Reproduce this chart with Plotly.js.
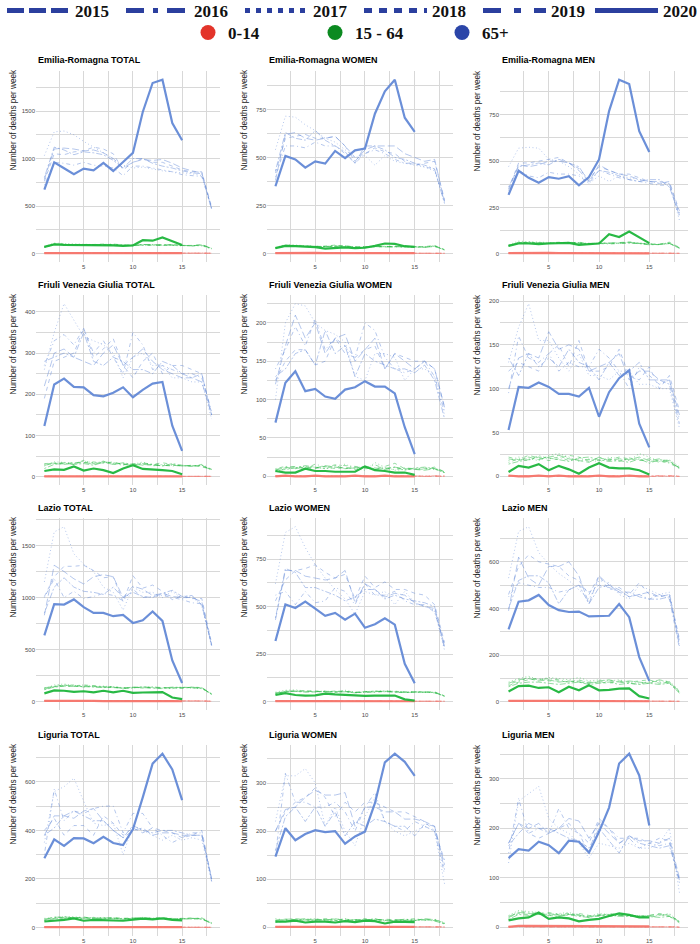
<!DOCTYPE html>
<html><head><meta charset="utf-8">
<script src="https://cdn.plot.ly/plotly-3.0.1.min.js"></script>
<style>html,body{margin:0;padding:0;background:#fff}#chart{width:700px;height:944px}</style>
</head><body><div id="chart"></div>
<script>
// ---------------- DATA ----------------
const weeks = [1,2,3,4,5,6,7,8,9,10,11,12,13,14,15,16,17,18];
const years = ['2015','2016','2017','2018','2019','2020'];
const ageGroups = ['0-14','15 - 64','65+'];
const panelTitles = [
  'Emilia-Romagna TOTAL','Emilia-Romagna WOMEN','Emilia-Romagna MEN',
  'Friuli Venezia Giulia TOTAL','Friuli Venezia Giulia WOMEN','Friuli Venezia Giulia MEN',
  'Lazio TOTAL','Lazio WOMEN','Lazio MEN',
  'Liguria TOTAL','Liguria WOMEN','Liguria MEN'
];
const yTickSteps = [500,250,250,100,50,50,500,250,200,200,100,100];

// each array: series for 2015, 2016, 2017, 2018, 2019, 2020
const ER_TOT_0_14 = [
  [5,6,4,5,7,4,5,6,3,5,6,4,5,4,6,5,4,3],
  [4,5,6,3,5,6,4,5,4,6,4,5,3,5,4,6,5,2],
  [6,4,5,6,4,5,7,4,5,4,5,6,4,5,5,4,6,3],
  [5,5,4,6,5,4,5,6,4,5,5,4,6,4,5,5,4,2],
  [4,6,5,5,6,5,4,5,5,4,6,5,5,4,4,5,5,3],
  [5,6,4,5,6,5,4,5,4,5,4,3,4,3,3]];
const ER_TOT_15_64 = [
  [70,100,95,95,90,90,95,90,85,85,95,90,90,95,85,80,90,55],
  [65,95,100,90,90,85,95,100,90,80,90,85,95,90,85,80,85,50],
  [75,110,105,100,95,90,90,95,85,90,85,95,85,85,80,85,80,50],
  [70,100,95,95,90,95,100,90,85,90,90,85,90,85,90,85,95,55],
  [65,95,95,90,95,90,90,90,85,85,95,90,85,90,85,80,90,50],
  [70,95,90,90,85,90,85,85,80,85,140,135,170,130,90]];
const ER_TOT_65 = [
  [780,1100,1110,1100,1080,1090,1060,1000,900,960,990,980,990,950,900,870,850,470],
  [720,960,950,930,960,930,920,900,820,920,920,900,880,860,830,820,810,480],
  [1030,1280,1290,1250,1180,1120,1060,990,930,900,910,890,870,860,850,840,820,460],
  [760,1050,1040,1070,1080,1120,1100,1050,880,960,1000,960,960,920,880,860,860,490],
  [800,1120,1090,1040,1070,1060,1040,980,900,1000,1000,950,920,900,870,850,840,470],
  [673,960,897,834,894,876,953,869,964,1059,1490,1795,1830,1374,1192]];

const ER_W_0_14 = [
  [2,3,2,2,3,2,2,3,2,2,3,2,2,2,3,2,2,1],
  [3,2,2,3,2,2,3,2,2,3,2,2,3,2,2,2,3,1],
  [2,2,3,2,2,3,2,2,3,2,2,3,2,2,3,2,2,1],
  [2,3,2,3,2,2,2,3,2,2,2,3,2,3,2,2,2,1],
  [3,2,2,2,3,2,3,2,2,2,3,2,2,2,2,3,2,1],
  [2,3,2,2,3,2,2,2,2,3,2,2,2,2,2]];
const ER_W_15_64 = [
  [30,42,40,38,36,35,38,40,34,32,36,34,36,34,35,33,36,20],
  [26,38,42,36,34,38,36,34,32,36,38,36,34,36,32,34,38,18],
  [32,46,44,40,38,36,40,38,36,34,36,38,35,33,36,34,40,22],
  [28,40,38,40,36,38,44,38,34,36,34,36,38,35,34,36,42,20],
  [30,44,40,36,38,36,40,36,30,34,38,35,36,34,36,32,40,18],
  [28,40,38,35,33,25,30,32,28,30,40,52,50,38,35]];
const ER_W_65 = [
  [380,620,630,600,590,600,610,560,480,540,560,560,560,520,500,480,490,270],
  [400,560,560,550,580,560,560,520,470,520,540,520,490,470,470,450,440,270],
  [540,715,710,670,640,600,580,540,500,510,460,510,480,470,460,450,430,270],
  [420,600,610,620,600,600,610,560,500,520,550,530,520,480,460,470,480,280],
  [430,630,600,590,640,590,560,530,470,560,560,540,500,490,470,460,440,260],
  [350,508,490,447,480,468,534,497,537,546,728,844,905,707,633]];

const ER_M_0_14 = [
  [3,4,3,3,4,3,3,4,3,3,4,3,3,3,4,3,3,2],
  [3,3,4,3,3,4,3,3,3,4,3,3,4,3,3,3,4,2],
  [4,3,3,4,3,3,4,3,3,3,4,3,3,4,3,3,3,2],
  [3,4,3,3,3,4,3,4,3,3,3,3,4,3,4,3,3,2],
  [3,3,3,4,3,3,3,3,4,3,3,4,3,3,3,4,3,2],
  [3,4,3,3,4,3,3,3,3,3,2,2,3,2,2]];
const ER_M_15_64 = [
  [45,60,62,58,56,60,60,55,55,58,55,58,60,55,52,50,55,32],
  [40,58,60,55,58,56,58,60,52,55,52,55,58,56,50,48,55,30],
  [48,68,65,62,60,58,62,58,56,55,54,56,62,58,52,50,60,28],
  [44,62,60,56,58,62,58,62,54,58,56,60,64,55,50,52,62,34],
  [42,60,58,60,55,58,60,56,52,56,58,56,58,54,48,50,56,30],
  [42,55,55,52,55,55,58,48,50,55,105,90,120,90,57]];
const ER_M_65 = [
  [340,480,470,480,500,500,490,450,390,480,450,430,420,400,390,390,380,220],
  [330,450,420,410,440,430,430,420,380,450,430,410,400,390,380,370,370,200],
  [470,570,575,570,510,500,470,430,380,420,390,420,410,400,390,380,380,180],
  [350,490,490,500,510,520,490,460,400,470,450,430,430,410,390,380,390,230],
  [360,470,480,490,480,510,490,470,390,450,440,420,400,390,400,400,360,210],
  [318,448,410,383,414,405,419,369,414,509,770,940,917,662,549]];

const FVG_TOT_0_14 = [
  [1,1,2,1,1,1,1,2,1,1,1,1,1,2,1,1,1,1],
  [1,2,1,1,1,2,1,1,1,1,2,1,1,1,1,2,1,1],
  [2,1,1,1,2,1,1,1,2,1,1,1,2,1,1,1,1,1],
  [1,1,1,2,1,1,2,1,1,1,1,2,1,1,2,1,1,1],
  [1,1,1,1,1,1,1,1,1,2,1,1,1,1,1,1,2,1],
  [1,1,1,1,1,1,1,1,1,1,1,1,1,1,1]];
const FVG_TOT_15_64 = [
  [28,32,30,32,35,30,36,34,30,28,30,28,27,28,26,27,26,17],
  [30,34,33,30,40,32,38,30,32,26,34,30,28,26,28,25,30,18],
  [26,36,35,33,38,34,36,32,28,30,36,26,30,28,27,26,28,16],
  [32,33,31,35,34,36,33,36,30,32,28,30,34,30,26,28,24,18],
  [20,30,34,30,32,28,35,30,34,30,32,30,26,32,28,26,28,17],
  [14,18,17,25,15,20,16,9,20,28,19,18,16,14,6]];
const FVG_TOT_65 = [
  [220,300,310,290,280,270,300,320,270,290,310,280,260,250,240,240,230,150],
  [270,330,345,320,360,300,330,290,250,350,320,260,270,260,250,250,240,160],
  [260,350,420,380,340,330,320,300,240,290,300,270,270,240,240,230,230,140],
  [190,280,290,300,360,290,310,335,270,240,280,300,250,270,270,260,250,150],
  [280,290,300,290,350,280,270,290,280,260,260,250,280,270,250,240,250,150],
  [123,224,238,218,217,198,195,204,217,193,211,226,230,124,63]];

const FVG_W_0_14 = [
  [0,1,0,1,0,0,1,0,1,0,0,1,0,0,1,0,0,0],
  [1,0,0,0,1,0,0,1,0,0,1,0,0,1,0,0,1,0],
  [0,0,1,0,0,1,0,0,0,1,0,0,1,0,0,1,0,0],
  [0,1,0,0,1,0,1,0,0,0,1,0,0,0,1,0,0,1],
  [1,0,0,1,0,0,0,1,0,1,0,0,1,0,0,0,1,0],
  [0,1,0,0,1,0,0,0,1,0,0,1,0,0,0]];
const FVG_W_15_64 = [
  [8,12,10,12,11,14,12,10,12,10,11,9,12,10,9,8,10,5],
  [10,13,12,10,16,12,15,14,13,11,15,10,9,11,10,9,11,6],
  [6,10,11,13,12,10,11,16,10,8,18,12,8,9,10,11,9,5],
  [9,11,13,11,10,13,10,12,9,12,10,13,17,10,9,10,12,6],
  [7,9,11,14,12,10,14,10,11,13,9,11,12,8,11,12,10,5],
  [7,5,5,10,7,7,6,6,6,13,8,7,5,5,2]];
const FVG_W_65 = [
  [120,170,210,180,200,160,180,185,150,165,180,140,160,150,140,150,140,90],
  [140,165,195,170,205,165,180,160,155,200,190,155,140,135,140,150,130,85],
  [100,200,225,222,200,190,185,175,130,125,160,160,155,125,140,140,130,80],
  [125,150,165,165,145,150,180,170,155,165,170,140,160,155,150,150,140,90],
  [130,140,160,165,145,190,160,170,130,160,150,145,140,140,135,145,125,75],
  [70,122,137,111,114,104,101,113,116,124,117,117,108,64,29]];

const FVG_M_0_14 = [
  [1,0,1,0,0,1,0,0,1,0,1,0,0,1,0,0,1,0],
  [0,1,0,0,1,0,1,0,0,1,0,0,1,0,0,1,0,0],
  [1,0,0,1,0,0,1,0,1,0,0,1,0,0,1,0,0,1],
  [0,0,1,0,1,0,0,1,0,0,1,0,1,0,0,0,1,0],
  [0,1,0,1,0,0,0,1,0,1,0,0,0,1,0,1,0,0],
  [1,0,0,1,0,1,0,0,0,1,0,0,1,0,0]];
const FVG_M_15_64 = [
  [20,18,22,19,22,24,20,18,16,22,18,20,19,22,18,20,16,10],
  [16,20,18,24,20,22,18,20,19,18,20,17,21,19,17,18,15,9],
  [18,22,20,18,24,26,22,17,20,16,22,20,18,26,22,17,19,11],
  [22,19,24,21,18,20,24,22,17,21,19,22,20,18,20,16,17,10],
  [14,17,19,22,21,19,17,21,22,19,17,18,16,20,15,19,18,9],
  [5,12,10,14,7,12,8,3,10,15,10,9,9,7,2]];
const FVG_M_65 = [
  [100,135,140,135,165,145,150,145,120,125,130,140,110,120,120,110,110,70],
  [95,160,135,130,140,120,130,125,125,145,135,120,100,125,115,105,110,65],
  [130,170,197,155,155,135,120,140,115,115,110,120,120,105,105,100,100,55],
  [120,130,125,120,140,150,125,155,120,120,125,145,115,110,125,100,115,75],
  [135,115,140,125,135,125,145,130,125,110,130,115,120,130,110,110,105,60],
  [53,102,101,107,102,94,94,91,101,68,96,112,121,60,33]];

const LAZ_TOT_0_14 = [
  [8,9,7,8,10,7,8,9,7,8,7,8,9,7,8,8,7,4],
  [9,8,8,7,8,9,7,8,8,7,9,8,7,8,9,7,8,5],
  [7,10,9,8,7,8,9,7,8,9,8,7,8,9,7,8,9,4],
  [8,7,9,9,8,7,8,8,9,7,8,9,8,7,8,9,7,5],
  [9,8,7,8,9,8,7,9,7,8,8,8,7,8,8,7,8,4],
  [8,9,7,8,8,7,6,7,6,7,5,6,5,5,4]];
const LAZ_TOT_15_64 = [
  [120,145,160,150,150,145,140,135,130,140,135,130,135,130,140,135,130,75],
  [130,150,155,160,140,150,145,140,125,135,140,130,125,135,130,140,135,70],
  [125,160,170,155,160,145,150,140,135,130,140,145,130,125,135,130,125,72],
  [135,145,150,145,160,155,140,145,130,140,130,140,135,130,130,140,135,78],
  [115,140,150,150,145,140,135,140,130,135,145,135,130,140,135,130,130,70],
  [80,108,105,95,100,90,105,90,105,85,88,90,92,40,25]];
const LAZ_TOT_65 = [
  [830,1310,1250,1180,1130,1200,1220,1200,1000,1110,1080,1020,1040,1010,1000,1000,960,540],
  [1000,1180,1000,1060,990,1010,1040,1020,970,1080,1000,1010,1020,1000,980,950,940,550],
  [1150,1630,1680,1420,1320,1250,1100,1050,880,1100,1050,1050,1000,1060,990,1010,920,530],
  [1010,1200,1300,1300,1310,1260,1190,1200,960,1210,1090,1120,1060,980,1020,990,990,560],
  [850,1100,1190,1100,1060,1050,1030,1100,1000,1050,1010,1000,1040,1070,1010,1020,930,540],
  [637,937,933,982,908,853,853,821,834,756,782,866,776,396,180]];

const LAZ_W_0_14 = [
  [3,4,3,3,4,3,3,4,3,3,4,3,3,3,4,3,3,2],
  [4,3,3,4,3,3,4,3,3,4,3,3,4,3,3,3,4,2],
  [3,3,4,3,3,4,3,3,4,3,3,4,3,3,3,4,3,2],
  [3,4,3,3,3,3,4,3,3,3,4,3,3,4,3,3,3,2],
  [4,3,3,3,4,3,3,3,3,3,3,3,3,3,4,3,3,2],
  [3,4,3,3,3,3,3,3,2,3,2,2,2,2,2]];
const LAZ_W_15_64 = [
  [42,55,55,52,55,50,52,54,48,50,52,55,50,48,50,52,48,30],
  [45,52,58,55,50,55,50,52,50,48,50,52,55,50,48,50,46,28],
  [50,60,62,56,54,56,52,60,50,52,54,58,52,50,52,48,50,32],
  [46,54,56,58,56,52,56,55,48,54,50,56,54,52,50,50,52,30],
  [40,52,54,50,52,54,50,52,46,50,56,52,50,48,52,50,48,28],
  [35,45,35,32,33,42,38,35,30,30,32,32,32,12,5]];
const LAZ_W_65 = [
  [430,690,690,660,650,640,650,690,520,620,590,550,570,560,520,500,490,280],
  [560,580,510,580,520,530,600,580,510,620,560,560,580,530,510,510,470,300],
  [620,890,920,810,720,650,590,540,460,580,560,580,510,580,520,500,480,270],
  [530,640,690,700,720,680,650,670,540,660,600,630,590,590,570,560,510,310],
  [440,700,680,600,600,580,560,530,550,590,590,540,560,540,530,520,500,290],
  [319,511,493,526,489,451,467,431,463,389,407,438,405,199,97]];

const LAZ_M_0_14 = [
  [5,6,5,5,6,5,5,6,5,5,6,5,5,5,6,5,5,3],
  [6,5,5,6,5,5,6,5,5,6,5,5,6,5,5,5,6,3],
  [5,5,6,5,5,6,5,5,6,5,5,6,5,5,5,6,5,3],
  [5,6,5,5,5,5,6,5,5,5,6,5,5,6,5,5,5,3],
  [6,5,5,5,6,5,5,5,5,5,5,5,5,5,6,5,5,3],
  [5,6,5,5,5,5,4,4,4,4,3,4,3,3,3]];
const LAZ_M_15_64 = [
  [80,95,100,90,95,85,90,85,80,90,95,85,90,85,80,95,85,45],
  [75,90,105,95,100,95,85,90,85,85,90,85,80,75,90,85,80,40],
  [85,100,110,95,105,100,95,105,90,95,90,95,85,80,85,90,88,50],
  [70,85,95,100,90,90,85,95,80,85,80,90,85,90,95,80,85,42],
  [65,80,85,85,80,75,80,85,75,80,85,75,80,75,80,75,80,38],
  [45,68,70,60,63,42,65,50,72,50,52,57,58,25,15]];
const LAZ_M_65 = [
  [390,620,530,500,580,580,600,540,420,540,500,480,450,460,470,450,460,240],
  [450,510,500,490,490,470,480,500,470,500,490,470,450,460,440,460,440,230],
  [530,730,750,640,590,550,520,480,440,520,510,460,440,500,480,460,470,250],
  [460,580,630,600,590,580,540,520,460,540,480,490,460,510,460,450,460,270],
  [400,520,540,540,510,420,480,500,420,490,500,470,470,450,440,440,450,260],
  [311,429,435,458,415,393,385,387,366,366,369,419,363,192,90]];

const LIG_TOT_0_14 = [
  [2,2,3,2,2,2,3,2,2,2,2,3,2,2,2,2,3,1],
  [2,3,2,2,2,3,2,2,2,3,2,2,2,2,3,2,2,1],
  [3,2,2,2,3,2,2,2,3,2,2,2,3,2,2,2,2,1],
  [2,2,2,3,2,2,2,3,2,2,3,2,2,2,2,3,2,1],
  [2,2,2,2,2,2,2,2,2,2,2,2,2,3,2,2,2,1],
  [2,2,2,3,2,2,2,2,2,2,2,2,2,2,2]];
const LIG_TOT_15_64 = [
  [35,42,44,40,42,38,40,38,36,38,40,36,38,35,36,38,36,18],
  [30,44,40,42,38,42,38,40,36,40,38,40,36,38,35,36,40,20],
  [38,40,46,44,40,40,42,36,38,36,42,38,40,36,38,35,38,16],
  [32,38,42,38,44,36,40,42,38,40,36,38,42,36,38,40,36,20],
  [28,36,38,40,36,38,36,38,34,38,40,36,38,34,36,38,34,17],
  [25,28,32,38,28,32,30,28,28,33,37,34,38,32,30]];
const LIG_TOT_65 = [
  [380,460,460,450,480,490,440,400,370,400,410,380,390,390,380,380,380,200],
  [300,570,440,480,470,490,500,500,390,470,470,410,380,350,370,390,390,190],
  [350,560,580,615,520,430,420,430,300,420,400,380,360,380,360,370,360,190],
  [400,450,380,420,420,380,460,430,380,410,390,410,400,390,370,380,400,200],
  [380,410,460,480,460,440,440,400,370,420,400,390,400,400,390,380,380,200],
  [285,363,336,368,367,347,374,348,340,405,536,675,716,651,525]];

const LIG_W_0_14 = [
  [1,1,2,1,1,1,1,1,2,1,1,1,1,1,1,2,1,1],
  [1,2,1,1,1,1,2,1,1,1,1,2,1,1,1,1,1,0],
  [2,1,1,1,2,1,1,1,1,1,2,1,1,1,2,1,1,1],
  [1,1,1,2,1,1,1,2,1,1,1,1,1,2,1,1,1,0],
  [1,1,1,1,1,2,1,1,1,2,1,1,1,1,1,1,2,1],
  [1,1,1,1,1,1,1,1,1,1,1,1,1,1,1]];
const LIG_W_15_64 = [
  [15,16,18,16,17,15,18,14,16,15,17,14,16,15,14,18,16,9],
  [12,14,16,18,15,16,14,17,15,14,16,15,14,16,18,15,14,8],
  [18,15,14,17,18,14,16,18,13,17,15,16,13,15,16,14,17,10],
  [14,17,15,14,16,18,17,15,14,18,14,17,15,14,15,17,15,8],
  [10,13,16,15,14,16,15,13,16,15,18,13,14,17,14,16,13,7],
  [12,12,14,10,12,12,10,13,11,14,13,8,12,12,11]];
const LIG_W_65 = [
  [200,245,250,270,285,275,275,280,210,250,250,240,240,225,225,220,210,130],
  [150,320,260,260,250,250,260,240,200,250,280,220,210,200,220,210,200,110],
  [220,315,315,330,300,210,250,200,170,230,270,220,200,190,200,210,200,90],
  [200,240,260,270,290,270,230,260,240,260,260,250,240,240,230,220,200,140],
  [160,230,250,220,250,210,240,190,220,210,225,220,210,210,190,215,210,120],
  [147,206,181,194,202,198,200,174,189,199,258,343,361,344,315]];

const LIG_M_0_14 = [
  [1,2,1,1,2,1,1,1,2,1,1,2,1,1,1,1,2,1],
  [2,1,1,2,1,1,2,1,1,1,2,1,1,2,1,1,1,0],
  [1,1,2,1,1,2,1,1,1,2,1,1,1,1,2,1,1,1],
  [1,2,1,1,1,1,1,2,1,1,1,1,2,1,1,2,1,0],
  [2,1,1,1,1,1,1,1,1,1,1,1,1,1,1,1,1,1],
  [1,3,3,3,3,3,2,2,2,2,2,2,2,2,2]];
const LIG_M_15_64 = [
  [22,30,28,26,28,24,26,24,22,24,26,22,24,22,24,26,22,12],
  [18,32,30,28,24,26,28,26,20,26,24,24,22,24,20,24,26,10],
  [24,34,32,30,26,28,30,24,22,28,26,24,26,22,22,24,28,11],
  [20,28,26,28,30,26,24,28,24,22,28,26,24,20,24,28,24,12],
  [16,26,24,26,24,22,26,22,20,24,22,24,22,24,22,20,22,9],
  [14,18,20,30,17,20,18,12,15,17,23,28,25,20,20]];
const LIG_M_65 = [
  [170,210,200,210,190,200,220,215,180,210,190,170,185,175,175,170,180,100],
  [150,260,190,200,190,240,200,190,150,215,200,180,180,160,170,165,170,95],
  [130,255,270,285,220,200,190,170,140,170,165,160,170,160,160,170,200,70],
  [170,210,190,180,190,200,210,190,170,220,200,170,180,180,170,180,175,90],
  [165,190,210,200,200,190,180,175,160,200,175,150,185,170,165,160,165,95],
  [140,158,155,173,166,150,175,173,151,193,242,331,351,307,206]];

// ---------------- BUILD ----------------
const panelData = [
  [ER_TOT_0_14, ER_TOT_15_64, ER_TOT_65],
  [ER_W_0_14, ER_W_15_64, ER_W_65],
  [ER_M_0_14, ER_M_15_64, ER_M_65],
  [FVG_TOT_0_14, FVG_TOT_15_64, FVG_TOT_65],
  [FVG_W_0_14, FVG_W_15_64, FVG_W_65],
  [FVG_M_0_14, FVG_M_15_64, FVG_M_65],
  [LAZ_TOT_0_14, LAZ_TOT_15_64, LAZ_TOT_65],
  [LAZ_W_0_14, LAZ_W_15_64, LAZ_W_65],
  [LAZ_M_0_14, LAZ_M_15_64, LAZ_M_65],
  [LIG_TOT_0_14, LIG_TOT_15_64, LIG_TOT_65],
  [LIG_W_0_14, LIG_W_15_64, LIG_W_65],
  [LIG_M_0_14, LIG_M_15_64, LIG_M_65]
];

const W = 700, H = 944;
const colLeft = [36, 267, 500], colRight = [220, 453, 688];
const rowTop = [71, 295, 518, 745], rowBottom = [262, 485, 710, 936];
const lineColors = ['#f6766d', '#1db53b', '#6389d6'];
const legendColors = ['#e3342a', '#0b8a20', '#2b45a8'];
const pastDash = ['7px,3px', '1px,3px,4px,3px', '1px,2.5px', '4px,4px', '2px,2px,6px,2px'];
const legendDash = ['17px,5px', '18px,9px,5px,9px', '5px,6px', '8px,7px', '18px,13px,7px,13px', 'solid'];
const gridCol = '#d8d8d8';

const traces = [];
const layout = {
  width: W, height: H,
  margin: {l: 0, r: 0, t: 0, b: 0, pad: 0, autoexpand: false},
  paper_bgcolor: '#fff', plot_bgcolor: '#fff',
  showlegend: true,
  font: {family: 'Liberation Sans, Arial, sans-serif', color: '#333'},
  annotations: []
};

panelData.forEach((groups, p) => {
  const row = Math.floor(p / 3), col = p % 3;
  const n = p + 1;
  const xa = n === 1 ? 'x' : 'x' + n, ya = n === 1 ? 'y' : 'y' + n;
  let vmin = Infinity, vmax = -Infinity;
  groups.forEach(g => g.forEach(s => s.forEach(v => { vmin = Math.min(vmin, v); vmax = Math.max(vmax, v); })));
  const pad = 0.05 * (vmax - vmin);

  groups.forEach((g, gi) => {
    g.forEach((s, yi) => {
      const is2020 = yi === 5;
      traces.push({
        type: 'scatter', mode: 'lines', xaxis: xa, yaxis: ya,
        x: weeks.slice(0, s.length), y: s,
        name: ageGroups[gi] + ' ' + years[yi],
        showlegend: false, hoverinfo: 'skip',
        opacity: is2020 ? 0.95 : 0.6,
        line: {color: lineColors[gi], width: is2020 ? 2.2 : 0.8, dash: is2020 ? 'solid' : pastDash[yi]}
      });
    });
  });

  const xKey = n === 1 ? 'xaxis' : 'xaxis' + n, yKey = n === 1 ? 'yaxis' : 'yaxis' + n;
  layout[xKey] = {
    domain: [colLeft[col] / W, colRight[col] / W], anchor: ya,
    range: [0.15, 18.85], tick0: 0, dtick: 5,
    showgrid: true, gridcolor: gridCol, gridwidth: 1,
    minor: {tick0: 0, dtick: 2.5, showgrid: true, gridcolor: gridCol, gridwidth: 1},
    zeroline: false, showline: false, ticks: '',
    tickfont: {size: 6, color: '#4d4d4d'}, fixedrange: true
  };
  layout[yKey] = {
    domain: [1 - rowBottom[row] / H, 1 - rowTop[row] / H], anchor: xa,
    range: [vmin - pad, vmax + pad], tick0: 0, dtick: yTickSteps[p],
    showgrid: true, gridcolor: gridCol, gridwidth: 1,
    minor: {tick0: 0, dtick: yTickSteps[p] / 2, showgrid: true, gridcolor: gridCol, gridwidth: 1},
    zeroline: false, showline: false, ticks: '',
    tickfont: {size: 6, color: '#4d4d4d'}, fixedrange: true
  };

  layout.annotations.push({
    xref: 'paper', yref: 'paper', x: colLeft[col] / W, y: 1 - (rowTop[row] - 10.5) / H,
    xanchor: 'left', yanchor: 'middle', showarrow: false,
    text: '<b>' + panelTitles[p] + '</b>',
    font: {size: 9, color: '#000', family: 'Liberation Sans, Arial, sans-serif'}
  });
  layout.annotations.push({
    xref: 'paper', yref: 'paper', x: (colLeft[col] - 23) / W, y: 1 - (rowTop[row] - 3) / H,
    xanchor: 'center', yanchor: 'top', showarrow: false, textangle: -90,
    text: 'Number of deaths per week',
    font: {size: 8.2, color: '#1a1a1a', family: 'Liberation Sans, Arial, sans-serif'}
  });
});

// legend entries (years: line styles; age groups: colours)
years.forEach((yr, i) => {
  traces.push({
    type: 'scatter', mode: 'lines', x: [null], y: [null], name: yr,
    legend: i < 5 ? 'legend' : 'legend3', hoverinfo: 'skip',
    line: {color: '#2b3f9e', width: 5, dash: legendDash[i]}
  });
});
ageGroups.forEach((ag, i) => {
  traces.push({
    type: 'scatter', mode: 'markers', x: [null], y: [null], name: ag,
    legend: 'legend2', hoverinfo: 'skip',
    marker: {color: legendColors[i], size: 15, symbol: 'circle'}
  });
});

const legendFont = {family: 'Liberation Serif, serif', size: 17, weight: 'bold', color: '#111'};
const yearLegendY = 1 + 7 / H;
layout.legend = {
  orientation: 'h', x: 2 / W, xanchor: 'left', y: yearLegendY, yanchor: 'top',
  entrywidth: 41, entrywidthmode: 'pixels', itemwidth: 63,
  font: legendFont, bgcolor: 'rgba(0,0,0,0)', borderwidth: 0, itemclick: false, itemdoubleclick: false
};
layout.legend3 = {
  orientation: 'h', x: 590 / W, xanchor: 'left', y: yearLegendY, yanchor: 'top',
  entrywidth: 30, entrywidthmode: 'pixels', itemwidth: 63,
  font: legendFont, bgcolor: 'rgba(0,0,0,0)', borderwidth: 0, itemclick: false, itemdoubleclick: false
};
layout.legend2 = {
  orientation: 'h', x: 188 / W, xanchor: 'left', y: 1 - 15 / H, yanchor: 'top',
  entrywidth: 82, entrywidthmode: 'pixels', itemwidth: 30,
  font: legendFont, bgcolor: 'rgba(0,0,0,0)', borderwidth: 0, itemclick: false, itemdoubleclick: false
};

Plotly.newPlot('chart', traces, layout, {staticPlot: true, displayModeBar: false});
</script>
</body></html>
